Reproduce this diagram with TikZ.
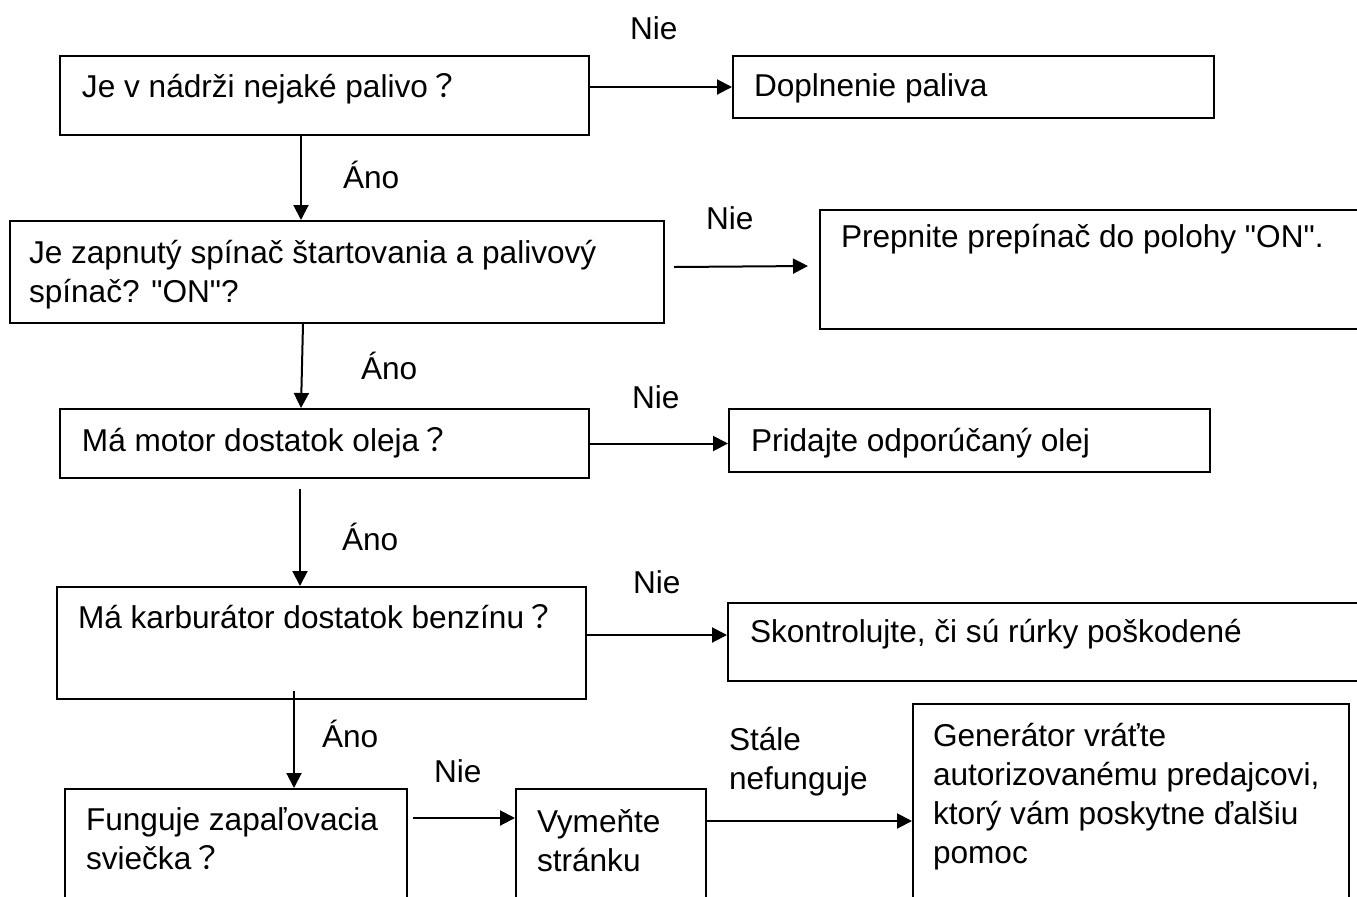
\documentclass[tikz,border=0pt]{standalone}
\usepackage{fontspec}
\setmainfont{Liberation Sans}
\newfontfamily\cjk{Noto Sans CJK JP}
\usetikzlibrary{arrows.meta, positioning, calc, fit}
\newcommand{\qm}{{\cjk ？}}
\newcommand{\qq}{\textquotedbl}
\tikzset{
  every picture/.style={line width=1pt},
  box/.style={draw=black, rectangle, inner sep=0pt},
  txt/.style={font=\fontsize{15.8}{19.5}\selectfont, align=left, inner sep=0pt, anchor=base west},
  arrow/.style={-{Triangle[length=7.5pt, width=7.5pt]}, draw=black, line width=1pt},
}

\begin{document}
\begin{tikzpicture}[x=0.5pt, y=-0.5pt]
  \path[use as bounding box] (0,0) rectangle (1357,896);
  \clip (0,0) rectangle (1357,896);
  % a box, with its text set in the top left corner (#5 = down to the last baseline)
  \newcommand{\flowstep}[6]{% #1 name, #2 top left, #3 bottom right, #4 #5 text offset, #6 text
    \node[box, fit={(#2) (#3)}] (#1) {};
    \node[txt] (#1-t) at ([xshift=#4, yshift=-#5]#1.north west) {#6};
  }
  % the questions down the left
  \flowstep{q1}{60,56}{589,135}{11pt}{21pt}{Je v nádrži nejaké palivo\qm}
  \flowstep{q2}{10,221}{664,323}{9.5pt}{41pt}{Je zapnutý spínač štartovania a palivový\\spínač? \qq ON\qq?}
  \flowstep{q3}{60,409}{589,478}{11pt}{21.5pt}{Má motor dostatok oleja\qm}
  \flowstep{q4}{57,587}{586,699}{10.5pt}{21pt}{Má karburátor dostatok benzínu\qm}
  \flowstep{q5}{65,789}{407,910}{10.5pt}{40.5pt}{Funguje zapaľovacia\\sviečka\qm}
  % what to do when the answer is no
  \flowstep{a1}{733,56}{1214,118}{10.5pt}{20.5pt}{Doplnenie paliva}
  \flowstep{a2}{820,210}{1370,329}{10.5pt}{19pt}{Prepnite prepínač do polohy \qq ON\qq.}
  \flowstep{a3}{729,409}{1210,472}{11pt}{21.5pt}{Pridajte odporúčaný olej}
  \flowstep{a4}{728,603}{1370,681}{11pt}{20pt}{Skontrolujte, či sú rúrky poškodené}
  \flowstep{a5}{516,789}{706,910}{10.5pt}{41.5pt}{Vymeňte\\stránku}
  \flowstep{a6}{913,704}{1349,910}{10pt}{80pt}{Generátor vráťte\\autorizovanému predajcovi,\\ktorý vám poskytne ďalšiu\\pomoc}
  % answers
  \node[txt] (nie1) at (629,39) {Nie};
  \node[txt] (ano1) at (342,188) {Áno};
  \node[txt] (nie2) at (705,229) {Nie};
  \node[txt] (ano2) at (360,379) {Áno};
  \node[txt] (nie3) at (631,408) {Nie};
  \node[txt] (ano3) at (341,550) {Áno};
  \node[txt] (nie4) at (632,593) {Nie};
  \node[txt] (ano4) at (321,747) {Áno};
  \node[txt] (nie5) at (433,782) {Nie};
  \node[txt] (stale) at (728,789) {Stále\\nefunguje};
  % connectors
  \draw[arrow] (q1.east |- a1.west) -- (a1.west);
  \draw[arrow] ([xshift=121pt]q1.south west) -- ([xshift=146pt]q2.north west);
  \draw[arrow] ([xshift=4.5pt, yshift=2.5pt]q2.east) -- ([xshift=-5.5pt, yshift=1.75pt]a2.west);
  \draw[arrow] ([xshift=147pt]q2.south west) -- ([xshift=121pt]q3.north west);
  \draw[arrow] (q3.east) -- (q3.east -| a3.west);
  \draw[arrow] ([xshift=120.5pt, yshift=-5pt]q3.south west) -- ([xshift=122pt]q4.north west);
  \draw[arrow] ([yshift=4pt]q4.east) -- ([yshift=3.5pt]a4.west);
  \draw[arrow] ([xshift=119pt, yshift=4.5pt]q4.south west) -- ([xshift=115pt]q5.north west);
  \draw[arrow] ([xshift=2.5pt, yshift=-15pt]q5.north east) -- ([yshift=-15pt]a5.north west);
  \draw[arrow] ([yshift=-16.5pt]a5.north east) -- ([yshift=-59pt]a6.north west);
\end{tikzpicture}
\end{document}
